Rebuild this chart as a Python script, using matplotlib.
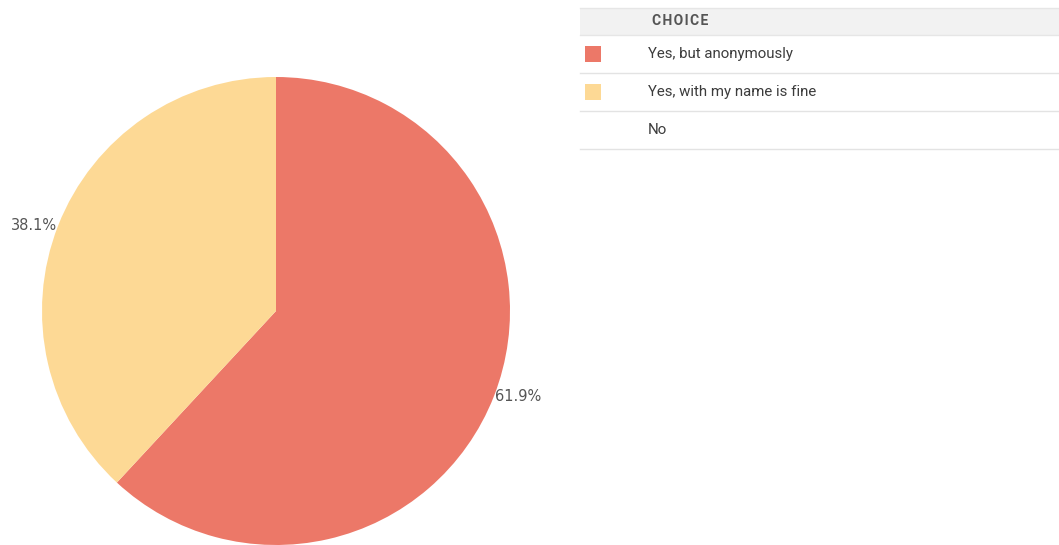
import matplotlib
matplotlib.use("Agg")
import matplotlib.pyplot as plt

categories = ["Yes, but anonymously", "Yes, with my name is fine", "No"]
values = [61.9, 38.1, 0.0]
colors = ["#EC7868", "#FDD995", "#FFFFFF"]
header = "CHOICE"

W, H = 1059, 545
fig = plt.figure(figsize=(W / 100, H / 100), dpi=100)
fig.patch.set_facecolor("white")

# pie axes
cx, cy, r = 276, 311, 234
ax = fig.add_axes([(cx - r) / W, (H - cy - r) / H, 2 * r / W, 2 * r / H])
pv = [v for v in values if v > 0]
pc = [c for v, c in zip(values, colors) if v > 0]
wedges, texts = ax.pie(pv, colors=pc, startangle=90, counterclock=False,
                       labels=[f"{v:.1f}%" for v in pv], labeldistance=1.005,
                       textprops=dict(color="#555555", fontsize=10.5, family="DejaVu Sans"),
                       wedgeprops=dict(linewidth=0))
ax.set_xlim(-1, 1)
ax.set_ylim(-1, 1)
ax.set_aspect("auto")
ax.axis("off")

# table / legend
tx = fig.add_axes([0, 0, 1, 1], zorder=-1)
tx.set_xlim(0, W)
tx.set_ylim(H, 0)
tx.axis("off")
x0, x1 = 580, W
tx.add_patch(plt.Rectangle((x0, 7.5), x1 - x0, 27.5, facecolor="#F2F2F2", edgecolor="none"))
tx.plot([x0, x1], [7.5, 7.5], color="#E6E6E6", lw=1)
tx.plot([x0, x1], [35, 35], color="#E6E6E6", lw=1)
tx.text(652, 21, "\u200a".join(header), fontsize=10, fontweight="bold", color="#555555",
        family=["Roboto", "DejaVu Sans"], va="center", ha="left")
row_h = 38
for i, (cat, col, v) in enumerate(zip(categories, colors, values)):
    yc = 54 + i * row_h
    if v > 0:
        tx.add_patch(plt.Rectangle((585, yc - 8), 16, 16, facecolor=col, edgecolor="none"))
    tx.text(648, yc, cat, fontsize=10.8, color="#3C3C3C", family="Roboto",
            va="center", ha="left")
    tx.plot([x0, x1], [yc + 18.5, yc + 18.5], color="#E3E3E3", lw=1)

fig.savefig("out.png", dpi=100, facecolor="white")
